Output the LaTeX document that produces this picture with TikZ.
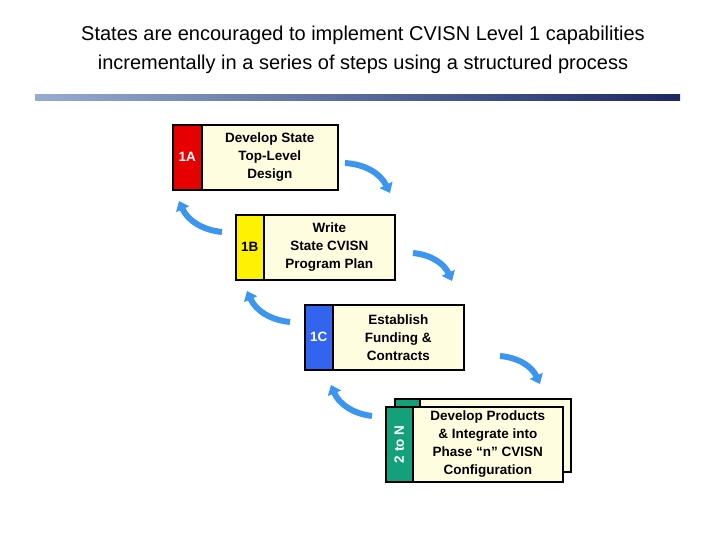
\documentclass[tikz,border=0pt]{standalone}
\usepackage{fontspec}
\setmainfont{Liberation Sans}
\usetikzlibrary{arrows.meta}
\begin{document}
\begin{tikzpicture}[x=1pt,y=-1pt,
  strip/.style={draw=black,line width=1.6pt,minimum height=65pt,inner sep=0pt},
  txtbox/.style={draw=black,line width=1.6pt,fill=yellow!12!white,minimum height=65pt,inner sep=0pt,align=center,font=\bfseries\fontsize{13.5}{18}\selectfont},
  lbl/.style={font=\bfseries\fontsize{13.5}{15}\selectfont},
  flow/.style={draw={rgb,255:red,60;green,150;blue,240},line width=6pt,-{Triangle[width=14pt,length=9pt]}}]
\useasboundingbox (0,0) rectangle (720,540);
\node[align=center,font=\fontsize{20}{29}\selectfont] (title) at (363,50) {States are encouraged to implement CVISN Level 1 capabilities\\incrementally in a series of steps using a structured process};
\shade[left color={rgb,255:red,150;green,170;blue,210},right color={rgb,255:red,30;green,40;blue,100}] (35,95) rectangle (680,101);
% 1A
\node[strip,fill={rgb,255:red,230;green,0;blue,0},minimum width=29pt,anchor=north west] (s1) at (172,124) {};
\node[txtbox,minimum width=136pt,anchor=north west] (b1) at (201,124) {Develop State\\Top-Level\\Design};
\node[lbl,text=white] (l1) at (s1.center) {1A};
% 1B
\node[strip,fill=yellow,minimum width=28pt,anchor=north west] (s2) at (235,214) {};
\node[txtbox,minimum width=131pt,anchor=north west] (b2) at (263,214) {Write\\State CVISN\\Program Plan};
\node[lbl] (l2) at (s2.center) {1B};
% 1C
\node[strip,fill={rgb,255:red,50;green,100;blue,240},minimum width=28pt,anchor=north west] (s3) at (304,304) {};
\node[txtbox,minimum width=131pt,anchor=north west] (b3) at (332,304) {Establish\\Funding \&\\Contracts};
\node[lbl,text=white] (l3) at (s3.center) {1C};
% 2 to N back
\node[strip,fill={rgb,255:red,20;green,160;blue,120},minimum width=25pt,minimum height=73pt,anchor=north west] (s4b) at (394,398) {};
\node[txtbox,minimum width=151pt,minimum height=73pt,anchor=north west] (b4b) at (419,398) {};
% front
\node[strip,fill={rgb,255:red,20;green,160;blue,120},minimum width=27pt,minimum height=75pt,anchor=north west] (s4) at (385,406) {};
\node[txtbox,minimum width=150pt,minimum height=75pt,anchor=north west] (b4) at (412,406) {Develop Products\\\& Integrate into\\Phase “n” CVISN\\Configuration};
\node[lbl,text=white,rotate=90] (l4) at (s4.center) {2 to N};
% arrows
\coordinate (r1a) at (345,163); \coordinate (r1b) at (390,193);
\coordinate (r2a) at (413,253); \coordinate (r2b) at (452,281);
\coordinate (r3a) at (500,356); \coordinate (r3b) at (540,384);
\coordinate (q1a) at (222,232); \coordinate (q1b) at (179,201);
\coordinate (q2a) at (290,322); \coordinate (q2b) at (247,291);
\coordinate (q3a) at (372,416); \coordinate (q3b) at (331,385);
\foreach \a/\b in {r1a/r1b,r2a/r2b,r3a/r3b}{\draw[flow] (\a) to[bend left=30] (\b);}
\foreach \a/\b in {q1a/q1b,q2a/q2b,q3a/q3b}{\draw[flow] (\a) to[bend left=30] (\b);}
\end{tikzpicture}
\end{document}
